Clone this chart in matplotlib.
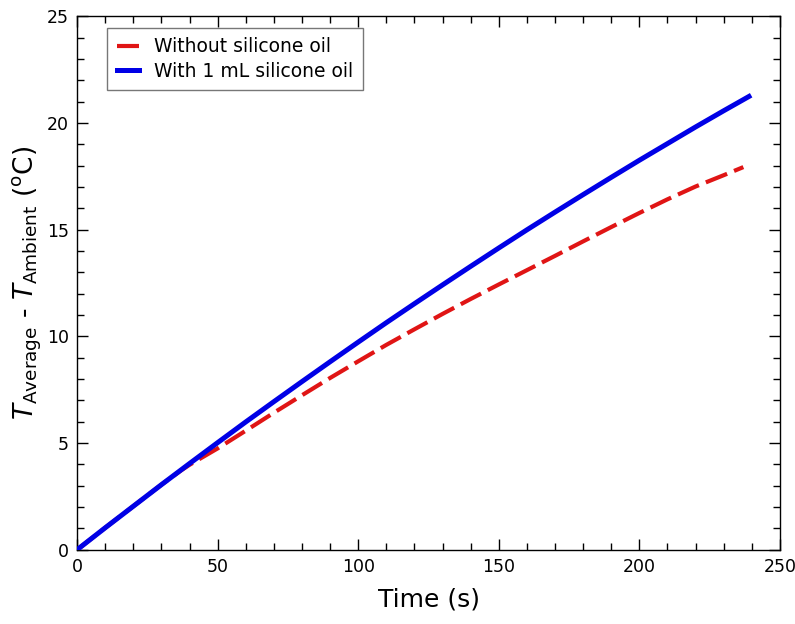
import matplotlib
matplotlib.use('Agg')
import matplotlib.pyplot as plt
from matplotlib.ticker import MultipleLocator

# data
time_blue = [0, 10, 20, 30, 40, 50, 60, 70, 80, 90, 100, 110, 120,
             130, 140, 150, 160, 170, 180, 190, 200, 210, 220, 230, 239]
with_oil = [0, 1.03, 2.04, 3.05, 4.04, 5.02, 5.99, 6.94, 7.88, 8.81, 9.73, 10.64, 11.53,
            12.41, 13.28, 14.14, 14.99, 15.82, 16.64, 17.45, 18.25, 19.03, 19.81, 20.57, 21.24]

time_red = [0, 10, 20, 30, 37, 40, 50, 60, 70, 80, 90, 100, 110, 120,
            130, 140, 150, 160, 170, 180, 190, 200, 210, 220, 230, 237]
without_oil = [0, 1.03, 2.04, 3.05, 3.72, 3.98, 4.75, 5.58, 6.42, 7.24, 8.05, 8.83, 9.6, 10.33,
               11.05, 11.75, 12.43, 13.1, 13.77, 14.45, 15.12, 15.78, 16.42, 17.02, 17.55, 17.93]

fig = plt.figure(figsize=(7.95, 6.24), dpi=100)
ax = fig.add_axes([0.097, 0.119, 0.884, 0.855])

ax.plot(time_red, without_oil, color='#e01515', lw=3.0, dashes=(5.5, 1.8),
        label='Without silicone oil', zorder=2)
ax.plot(time_blue, with_oil, color='#0000e6', lw=3.6,
        label='With 1 mL silicone oil', zorder=3)

ax.set_xlim(0, 250)
ax.set_ylim(0, 25)
ax.xaxis.set_major_locator(MultipleLocator(50))
ax.xaxis.set_minor_locator(MultipleLocator(10))
ax.yaxis.set_major_locator(MultipleLocator(5))
ax.yaxis.set_minor_locator(MultipleLocator(1))
ax.tick_params(which='both', direction='in', top=True, right=True, width=1)
ax.tick_params(which='major', length=8, labelsize=12.5, pad=6)
ax.tick_params(which='minor', length=5)
for s in ax.spines.values():
    s.set_linewidth(1)

ax.set_xlabel('Time (s)', fontsize=18, labelpad=8)
ax.set_ylabel(r'$T_{\rm Average}$ - $T_{\rm Ambient}$ ($^{\rm o}$C)', fontsize=19, labelpad=2)

leg = ax.legend(loc='upper left', fontsize=13.5, frameon=True, fancybox=False,
                edgecolor='#555555', handlelength=1.2, borderpad=0.5,
                bbox_to_anchor=(0.043, 0.978), borderaxespad=0, labelspacing=0.3)
leg.get_frame().set_linewidth(1)

fig.savefig('out.png', dpi=100)
